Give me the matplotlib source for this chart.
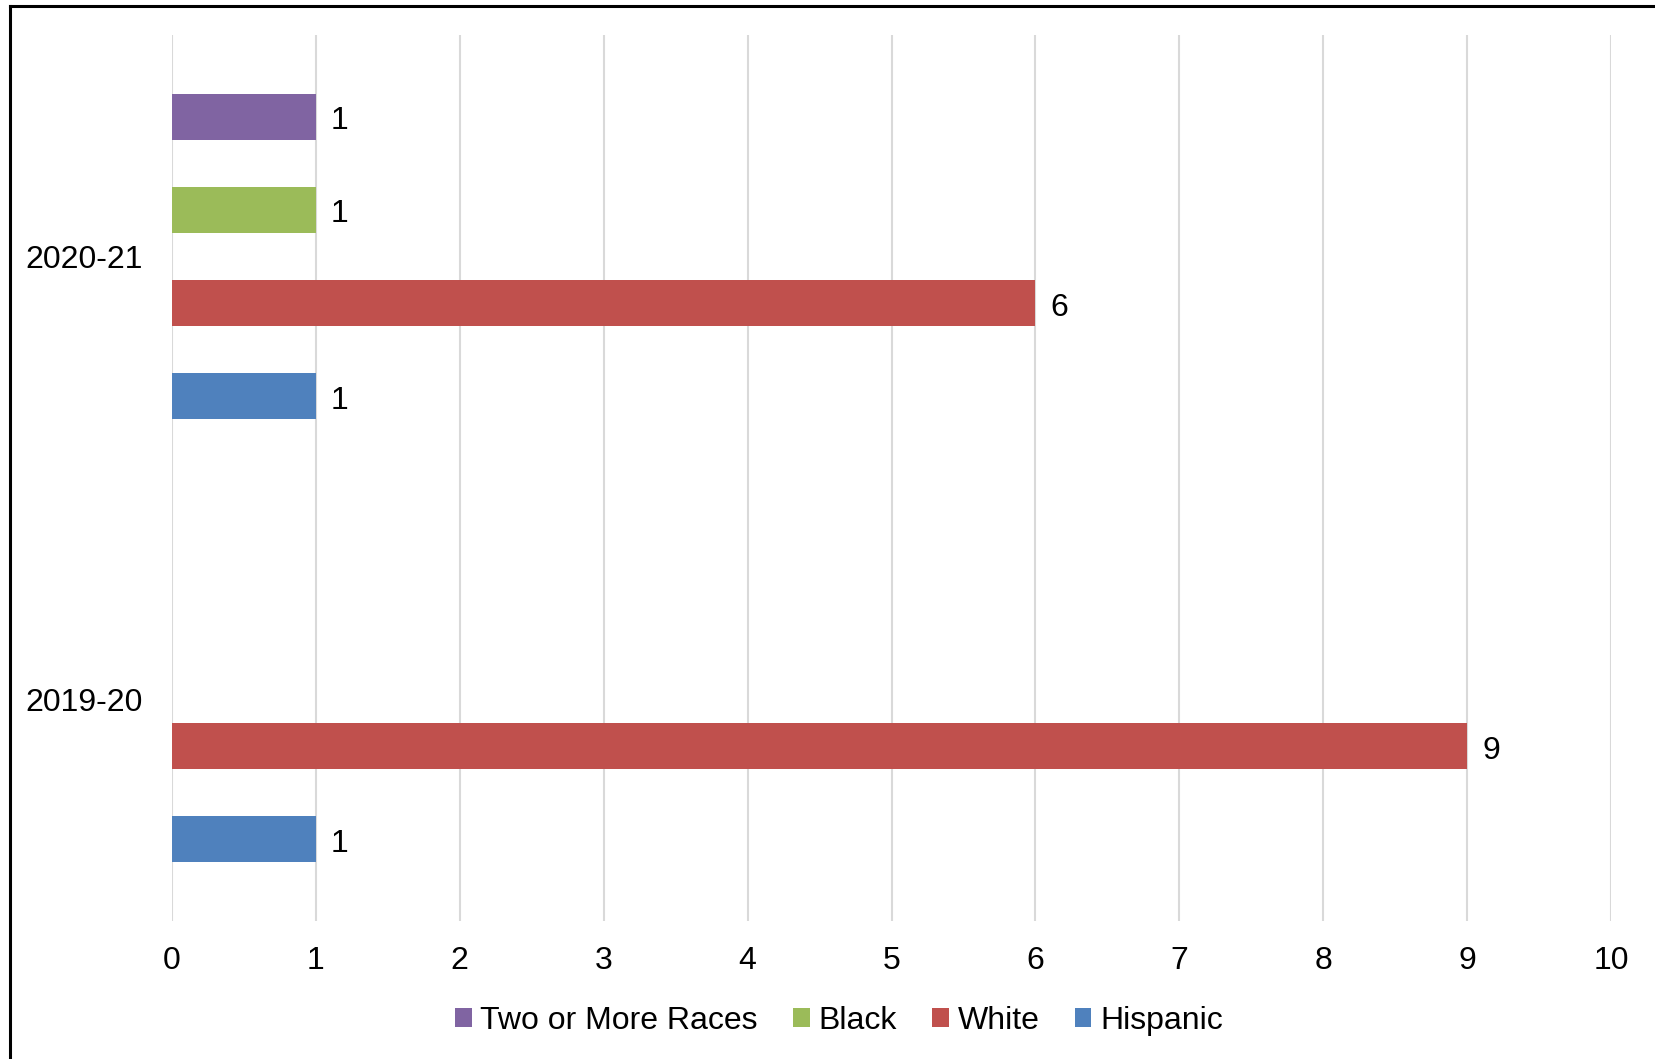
import matplotlib
matplotlib.use("Agg")
import matplotlib.pyplot as plt
from matplotlib.lines import Line2D
import numpy as np

categories = ["2019-20", "2020-21"]
series_names = ["Hispanic", "White", "Black", "Two or More Races"]
hispanic = [1, 1]
white = [9, 6]
black = [None, 1]
two_or_more = [None, 1]
series_values = [hispanic, white, black, two_or_more]
colors = ["#4F81BD", "#C0504D", "#9BBB59", "#8064A2"]
xticks = [0, 1, 2, 3, 4, 5, 6, 7, 8, 9, 10]

plt.rcParams["font.family"] = ["Liberation Sans", "DejaVu Sans"]
FS = 23

fig = plt.figure(figsize=(16.55, 10.59), dpi=100)
ax = fig.add_axes([172 / 1655, 1 - 921 / 1059, (1611 - 172) / 1655, (921 - 35) / 1059])

slot = 0.21
bar_h = 0.104
y = np.arange(len(categories))
handles = []
for i, (name, vals, col) in enumerate(zip(series_names, series_values, colors)):
    off = (i - 1.5) * slot
    ys = [yy + off for yy, v in zip(y, vals) if v is not None]
    ws = [v for v in vals if v is not None]
    bars = ax.barh(ys, ws, height=bar_h, color=col, label=name, zorder=3)
    handles.append(bars)
    for yy, w in zip(ys, ws):
        ax.annotate(str(w), xy=(w, yy), xytext=(15, -1), textcoords="offset pixels",
                    ha="left", va="center_baseline", fontsize=FS, color="black")

ax.set_xlim(0, 10)
ax.set_ylim(-0.5, 1.5)
ax.set_xticks(xticks)
ax.set_xticklabels([str(t) for t in xticks], fontsize=FS)
ax.set_yticks(y)
ax.set_yticklabels(categories, fontsize=FS)
ax.tick_params(axis="both", length=0)
ax.tick_params(axis="x", pad=18)
ax.tick_params(axis="y", pad=21)
ax.grid(axis="x", color="#D9D9D9", linewidth=1.5, zorder=0)
ax.set_axisbelow(True)
for s in ax.spines.values():
    s.set_visible(False)

leg = fig.legend(handles[::-1], series_names[::-1], loc="center",
                 bbox_to_anchor=(839 / 1655, 1 - 1021 / 1059), ncol=4, frameon=False,
                 fontsize=FS, handlelength=0.52, handleheight=0.52, handletextpad=0.28,
                 columnspacing=1.1, borderpad=0, borderaxespad=0)

# chart border (left and top visible)
fig.add_artist(Line2D([10 / 1655, 10 / 1655], [0, 1 - 6 / 1059], transform=fig.transFigure,
                      color="black", linewidth=2.2))
fig.add_artist(Line2D([10 / 1655, 1], [1 - 6 / 1059, 1 - 6 / 1059], transform=fig.transFigure,
                      color="black", linewidth=2.2))

fig.savefig("out.png", dpi=100, facecolor="white")
